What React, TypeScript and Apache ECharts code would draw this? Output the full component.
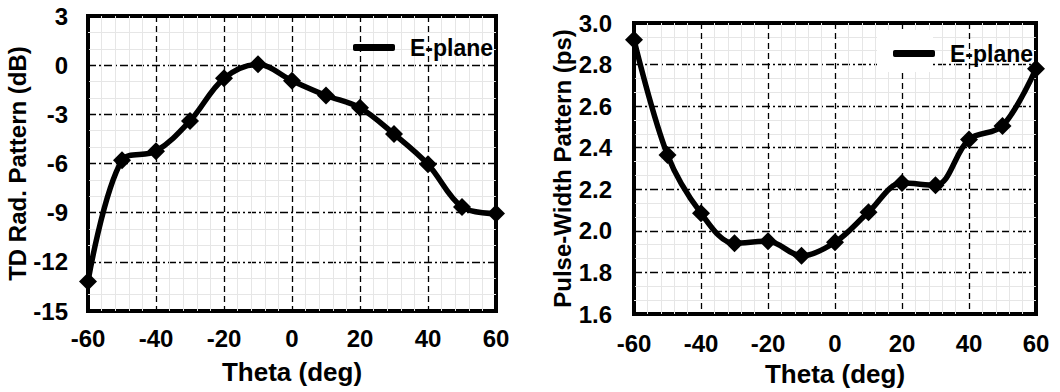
import React, { useEffect, useRef } from "react";
import * as echarts from "echarts";

const theta = [-60, -50, -40, -30, -20, -10, 0, 10, 20, 30, 40, 50, 60];
const tdRad = [-13.2, -5.8, -5.25, -3.4, -0.8, 0.05, -0.95, -1.85, -2.6, -4.2, -6.05, -8.65, -9.05];
const pulseWidth = [2.92, 2.365, 2.085, 1.94, 1.95, 1.88, 1.945, 2.09, 2.23, 2.22, 2.44, 2.505, 2.78];
const seriesName = "E-plane";
const xName = "Theta (deg)";
const yNameLeft = "TD Rad. Pattern (dB)";
const yNameRight = "Pulse-Width Pattern (ps)";

const FONT = '"Liberation Sans", Arial, sans-serif';

export default function App() {
  const ref = useRef<HTMLDivElement>(null);
  useEffect(() => {
    if (!ref.current) return;
    const chart = echarts.init(ref.current, null, { renderer: "svg" });
    const minorLine = { show: true, lineStyle: { color: "#e6e6e6", width: 1 } };
    const xSplit = { show: true, lineStyle: { color: "#000", width: 1.3, type: [6, 4] } };
    const ySplit = { show: true, lineStyle: { color: "#000", width: 1.3, type: [8, 3, 2, 3] } };
    const labelStyle = { color: "#000", fontFamily: FONT, fontWeight: "bold", fontSize: 24 };
    const nameStyle = { color: "#000", fontFamily: FONT, fontWeight: "bold", fontSize: 26 };
    const yNameStyle = { color: "#000", fontFamily: FONT, fontWeight: "bold", fontSize: 24 };
    const xAxisBase = {
      type: "value",
      min: -60,
      max: 60,
      interval: 20,
      name: xName,
      nameLocation: "middle",
      nameTextStyle: nameStyle,
      axisLine: { show: false },
      axisTick: { show: false },
      minorTick: { show: false, splitNumber: 5 },
      minorSplitLine: minorLine,
      splitLine: xSplit,
    };
    const seriesBase = {
      type: "line",
      name: seriesName,
      smooth: 0.35,
      symbol: "diamond",
      symbolSize: 18,
      lineStyle: { color: "#000", width: 5.5 },
      itemStyle: { color: "#000" },
      z: 3,
    };
    const legendBase = {
      data: [seriesName],
      icon: "roundRect",
      itemWidth: 42,
      itemHeight: 7,
      selectedMode: false,
      textStyle: { color: "#000", fontFamily: FONT, fontWeight: "bold", fontSize: 23, padding: [0, 0, 0, 10] },
    };
    chart.setOption({
      animation: false,
      backgroundColor: "#fff",
      grid: [
        { left: 88, top: 16, width: 408, height: 295, show: true, borderColor: "#000", borderWidth: 4, backgroundColor: "#fff" },
        { left: 634, top: 23, width: 402, height: 291, show: true, borderColor: "#000", borderWidth: 4, backgroundColor: "#fff" },
      ],
      legend: [
        { ...legendBase, left: 348, top: 31 },
        { ...legendBase, left: 888, top: 37 },
      ],
      graphic: [
        { type: "rect", shape: { x: 877, y: 30, width: 56, height: 42 }, style: { fill: "#fff" }, z: 1 },
      ],
      xAxis: [
        { ...xAxisBase, gridIndex: 0, nameGap: 48, axisLabel: { ...labelStyle, margin: 15 } },
        { ...xAxisBase, gridIndex: 1, nameGap: 47, axisLabel: { ...labelStyle, margin: 17 } },
      ],
      yAxis: [
        {
          type: "value",
          gridIndex: 0,
          min: -15,
          max: 3,
          interval: 3,
          name: yNameLeft,
          nameLocation: "middle",
          nameGap: 54,
          nameTextStyle: yNameStyle,
          axisLine: { show: false },
          axisTick: { show: false },
          axisLabel: { ...labelStyle, margin: 20 },
          minorTick: { show: false, splitNumber: 3 },
          minorSplitLine: minorLine,
          splitLine: ySplit,
        },
        {
          type: "value",
          gridIndex: 1,
          min: 1.6,
          max: 3.0,
          interval: 0.2,
          name: yNameRight,
          nameLocation: "middle",
          nameGap: 60,
          nameTextStyle: yNameStyle,
          axisLine: { show: false },
          axisTick: { show: false },
          axisLabel: { ...labelStyle, margin: 22, formatter: (v: number) => v.toFixed(1) },
          minorTick: { show: false, splitNumber: 3 },
          minorSplitLine: minorLine,
          splitLine: ySplit,
        },
      ],
      series: [
        { ...seriesBase, xAxisIndex: 0, yAxisIndex: 0, data: theta.map((t, i) => [t, tdRad[i]]) },
        { ...seriesBase, xAxisIndex: 1, yAxisIndex: 1, data: theta.map((t, i) => [t, pulseWidth[i]]) },
      ],
    });
    return () => chart.dispose();
  }, []);
  return (
    <div
      ref={ref}
      style={{ position: "fixed", left: 0, top: 0, width: 1060, height: 392, background: "#fff" }}
    />
  );
}
